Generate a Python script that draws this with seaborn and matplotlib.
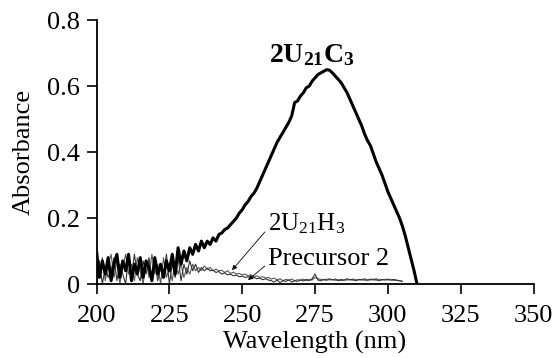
import numpy as np
import pandas as pd
import matplotlib
matplotlib.use("Agg")
import matplotlib.pyplot as plt
import seaborn as sns

# UV-vis spectra, absorbance (1 nm steps)
wl_c3 = np.arange(200, 311)
abs_c3 = [
    0.10, 0.02, 0.07, 0.03, 0.08, 0.01, 0.06, 0.09, 0.02, 0.07,
    0.04, 0.09, 0.01, 0.06, 0.03, 0.08, 0.02, 0.07, 0.05, 0.01,
    0.08, 0.03, 0.06, 0.02, 0.07, 0.04, 0.09, 0.03, 0.11, 0.06,
    0.10, 0.07, 0.11, 0.09, 0.12, 0.10, 0.13, 0.11, 0.13, 0.12,
    0.14, 0.13, 0.15, 0.155, 0.165, 0.17, 0.18, 0.19, 0.20, 0.215,
    0.225, 0.24, 0.25, 0.265, 0.275, 0.29, 0.31, 0.33, 0.35, 0.37,
    0.39, 0.41, 0.43, 0.445, 0.46, 0.475, 0.49, 0.51, 0.55, 0.555,
    0.57, 0.58, 0.595, 0.60, 0.615, 0.625, 0.635, 0.64, 0.645, 0.65,
    0.648, 0.64, 0.63, 0.62, 0.61, 0.595, 0.58, 0.56, 0.54, 0.52,
    0.50, 0.48, 0.455, 0.435, 0.42, 0.395, 0.37, 0.35, 0.33, 0.305,
    0.28, 0.26, 0.24, 0.22, 0.20, 0.175, 0.145, 0.11, 0.075, 0.04,
    0.0,
]

wl_thin = np.arange(200, 306)
abs_h3 = [
    0.10, 0.03, 0.08, 0.01, 0.06, 0.09, 0.02, 0.07, 0.00, 0.05,
    0.09, 0.03, 0.06, 0.01, 0.08, 0.04, 0.00, 0.07, 0.02, 0.09,
    0.03, 0.06, 0.00, 0.08, 0.02, 0.05, 0.01, 0.07, 0.03, 0.06,
    0.02, 0.05, 0.03, 0.06, 0.04, 0.05, 0.04, 0.055, 0.045, 0.05,
    0.04, 0.045, 0.04, 0.042, 0.035, 0.04, 0.032, 0.036, 0.03, 0.032,
    0.028, 0.03, 0.025, 0.028, 0.022, 0.025, 0.02, 0.022, 0.018, 0.02,
    0.015, 0.018, 0.012, 0.016, 0.01, 0.014, 0.012, 0.015, 0.01, 0.013,
    0.012, 0.015, 0.01, 0.014, 0.012, 0.02, 0.016, 0.014, 0.012, 0.015,
    0.012, 0.014, 0.011, 0.013, 0.01, 0.013, 0.012, 0.014, 0.011, 0.013,
    0.012, 0.014, 0.011, 0.013, 0.012, 0.015, 0.011, 0.013, 0.012, 0.014,
    0.012, 0.013, 0.011, 0.012, 0.01, 0.008,
]
abs_prec = [
    0.02, 0.07, 0.00, 0.05, 0.02, 0.04, 0.08, 0.01, 0.06, 0.03,
    0.00, 0.08, 0.02, 0.09, 0.03, 0.01, 0.07, 0.03, 0.08, 0.01,
    0.07, 0.01, 0.05, 0.03, 0.09, 0.00, 0.06, 0.02, 0.08, 0.01,
    0.06, 0.03, 0.07, 0.04, 0.06, 0.035, 0.05, 0.04, 0.048, 0.04,
    0.042, 0.035, 0.038, 0.03, 0.034, 0.028, 0.03, 0.025, 0.027, 0.022,
    0.024, 0.02, 0.022, 0.018, 0.02, 0.016, 0.018, 0.013, 0.016, 0.012,
    0.01, 0.006, 0.012, 0.004, 0.01, 0.008, 0.012, 0.006, 0.01, 0.008,
    0.012, 0.009, 0.014, 0.01, 0.016, 0.03, 0.012, 0.01, 0.014, 0.011,
    0.016, 0.012, 0.015, 0.01, 0.014, 0.011, 0.016, 0.012, 0.015, 0.01,
    0.014, 0.012, 0.016, 0.011, 0.015, 0.012, 0.016, 0.01, 0.014, 0.012,
    0.015, 0.012, 0.014, 0.011, 0.01, 0.008,
]

x_ticks = [200, 225, 250, 275, 300, 325, 350]
y_ticks = [0, 0.2, 0.4, 0.6, 0.8]
y_ticklabels = ["0", "0.2", "0.4", "0.6", "0.8"]

sns.set_style("ticks")
plt.rcParams["font.family"] = ["Liberation Serif", "DejaVu Serif"]
plt.rcParams["mathtext.fontset"] = "custom"
plt.rcParams["mathtext.rm"] = "Liberation Serif"
plt.rcParams["mathtext.bf"] = "Liberation Serif:bold"
plt.rcParams["text.color"] = "black"
plt.rcParams["axes.labelcolor"] = "black"

fig = plt.figure(figsize=(5.56, 3.58), dpi=100)
ax = fig.add_axes([0.1736, 0.2067, 0.786, 0.737])

sns.lineplot(x=wl_thin, y=abs_h3, ax=ax, color="0.35", lw=0.8,
             sort=False, estimator=None)
sns.lineplot(x=wl_thin, y=abs_prec, ax=ax, color="0.2", lw=0.8,
             sort=False, estimator=None)
sns.lineplot(x=wl_c3, y=abs_c3, ax=ax, color="black", lw=2.2,
             sort=False, estimator=None)

ax.set_xlim(200, 350)
ax.set_ylim(0, 0.8)
ax.set_xticks(x_ticks)
ax.set_yticks(y_ticks)
ax.set_yticklabels(y_ticklabels)
ax.tick_params(labelsize=19, length=7, width=1.2, direction="out",
               colors="black")
ax.tick_params(axis="x", pad=8)
ax.tick_params(axis="y", pad=5)
for s in ["top", "right"]:
    ax.spines[s].set_visible(False)
for s in ["left", "bottom"]:
    ax.spines[s].set_linewidth(1.3)
    ax.spines[s].set_color("black")

ax.set_xlabel("Wavelength (nm)", fontsize=19, labelpad=3)
ax.set_ylabel("Absorbance", fontsize=19, labelpad=9)

ax.text(274, 0.672, r"$\mathbf{2U_{21}C_{3}}$", fontsize=20,
        ha="center", va="baseline")
ax.annotate(r"$\mathrm{2U_{21}H_{3}}$", xy=(246.5, 0.042),
            xytext=(258.9, 0.164), fontsize=18, va="baseline", ha="left",
            arrowprops=dict(arrowstyle="-|>", color="black", lw=0.6,
                            mutation_scale=7, shrinkA=0, shrinkB=0,
                            relpos=(0, 0.3)))
ax.annotate("Precursor 2", xy=(252, 0.012), xytext=(258.9, 0.058),
            fontsize=19, va="baseline", ha="left",
            arrowprops=dict(arrowstyle="-|>", color="black", lw=0.6,
                            mutation_scale=7, shrinkA=0, shrinkB=0,
                            relpos=(0, 0.3)))

fig.savefig("out.png", dpi=100)
